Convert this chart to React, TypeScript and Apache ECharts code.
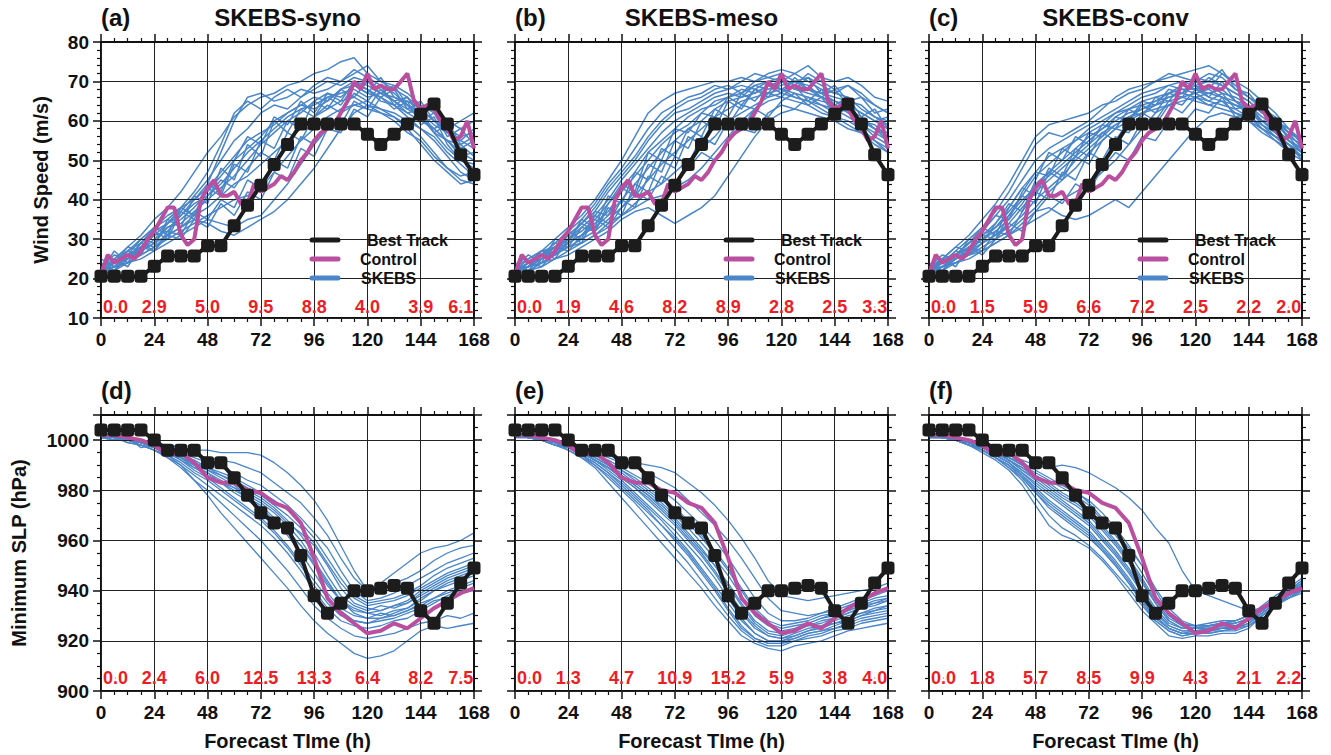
import React, { useEffect, useRef } from 'react';
import * as echarts from 'echarts';

const FONT = '"Liberation Sans", Arial, Helvetica, sans-serif';

const HOURS6 = [0, 6, 12, 18, 24, 30, 36, 42, 48, 54, 60, 66, 72, 78, 84, 90, 96, 102, 108, 114, 120, 126, 132, 138, 144, 150, 156, 162, 168];
const HOURS3 = [0, 3, 6, 9, 12, 15, 18, 21, 24, 27, 30, 33, 36, 39, 42, 45, 48, 51, 54, 57, 60, 63, 66, 69, 72, 75, 78, 81, 84, 87, 90, 93, 96, 99, 102, 105, 108, 111, 114, 117, 120, 123, 126, 129, 132, 135, 138, 141, 144, 147, 150, 153, 156, 159, 162, 165, 168];

const PANEL_LETTERS = ['(a)', '(b)', '(c)', '(d)', '(e)', '(f)'];
const PANEL_TITLES = ['SKEBS-syno', 'SKEBS-meso', 'SKEBS-conv', '', '', ''];

const BEST_WIND = [20.6, 20.6, 20.6, 20.6, 23.1, 25.7, 25.7, 25.7, 28.3, 28.3, 33.4, 38.6, 43.7, 48.9, 54.0, 59.2, 59.2, 59.2, 59.2, 59.2, 56.6, 54.0, 56.6, 59.2, 61.7, 64.3, 59.2, 51.4, 46.3];
const BEST_SLP = [1004, 1004, 1004, 1004, 1000, 996, 996, 996, 991, 991, 985, 978, 971, 967, 965, 954, 938, 931, 935, 940, 940, 941, 942, 941, 932, 927, 935, 943, 949];

const CONTROL_WIND = [21, 26, 24, 25, 26, 25, 27, 30, 32, 35, 38, 38, 31, 28.5, 30, 40, 43, 45, 41, 41, 42, 39, 39, 44, 42, 43, 44, 46, 45, 47, 50, 52, 55, 57, 58, 59, 62, 65, 70, 68, 72, 68, 69, 68, 68, 70, 72, 65, 63, 64, 63, 60, 58, 55, 56, 60, 53];
const CONTROL_SLP = [1002, 1002, 1001, 1000, 998, 994, 995, 991, 985, 983, 983, 980, 979, 975, 973, 967, 953, 937, 931, 927, 923, 924, 927, 925, 929, 933, 936, 939, 941];

const WIND_SYNO = [
  [22, 24, 26, 28, 31, 34, 36, 40, 44, 52, 60, 66, 67, 65, 66, 68, 67, 68, 70, 72, 74, 70, 68, 66, 63, 60, 58, 60, 62],
  [23, 25, 27, 30, 33, 35, 38, 42, 47, 54, 62, 65, 63, 66, 68, 66, 69, 71, 70, 73, 71, 69, 67, 64, 62, 59, 57, 55, 58],
  [21, 24, 25, 29, 32, 34, 37, 41, 45, 50, 55, 58, 62, 64, 63, 66, 68, 70, 69, 71, 70, 68, 65, 66, 61, 58, 55, 54, 56],
  [22, 23, 26, 27, 30, 33, 35, 38, 42, 46, 50, 53, 56, 60, 62, 64, 66, 65, 68, 69, 67, 66, 64, 62, 60, 58, 55, 52, 50],
  [23, 26, 25, 28, 31, 32, 36, 39, 41, 44, 48, 52, 55, 58, 61, 63, 64, 66, 67, 68, 66, 67, 65, 63, 61, 57, 53, 50, 48],
  [21, 22, 25, 27, 29, 33, 34, 37, 40, 43, 46, 50, 54, 57, 60, 62, 65, 67, 66, 69, 68, 65, 64, 61, 58, 56, 52, 49, 46],
  [22, 24, 27, 29, 33, 36, 38, 40, 43, 47, 51, 55, 57, 59, 62, 64, 63, 65, 68, 70, 69, 67, 66, 65, 63, 60, 57, 55, 53],
  [21, 23, 24, 26, 28, 31, 33, 36, 38, 41, 44, 46, 49, 52, 55, 58, 61, 63, 65, 66, 64, 63, 62, 60, 58, 55, 51, 47, 45],
  [22, 23, 24, 26, 28, 30, 32, 34, 36, 38, 40, 41, 43, 47, 51, 55, 58, 61, 63, 64, 65, 63, 61, 59, 56, 52, 48, 45, 44],
  [21, 22, 24, 25, 27, 29, 31, 33, 35, 34, 33, 35, 36, 40, 44, 49, 54, 58, 62, 64, 63, 62, 60, 57, 55, 51, 48, 46, 47],
  [22, 24, 26, 27, 29, 31, 33, 35, 34, 32, 31, 33, 35, 37, 40, 44, 48, 53, 58, 62, 64, 62, 61, 58, 54, 50, 47, 44, 45],
  [23, 25, 28, 31, 35, 38, 42, 47, 52, 56, 61, 64, 66, 67, 69, 70, 72, 73, 75, 76, 72, 70, 69, 67, 64, 62, 60, 58, 60],
  [24, 22, 27, 26, 32, 30, 37, 35, 43, 41, 49, 47, 55, 53, 60, 58, 65, 63, 68, 66, 70, 67, 69, 64, 62, 57, 55, 51, 52],
  [22, 27, 24, 29, 28, 35, 33, 41, 39, 48, 45, 54, 51, 60, 57, 63, 61, 66, 64, 69, 67, 71, 66, 64, 60, 62, 56, 58, 54],
  [21, 25, 23, 28, 27, 31, 30, 35, 33, 39, 36, 42, 40, 47, 45, 53, 51, 58, 57, 63, 61, 66, 63, 65, 59, 61, 54, 50, 49],
  [23, 24, 28, 27, 33, 31, 38, 36, 44, 42, 50, 56, 54, 61, 59, 65, 62, 67, 65, 70, 68, 66, 68, 63, 65, 60, 58, 56, 57],
  [22, 23, 25, 29, 27, 32, 31, 37, 35, 40, 38, 45, 43, 50, 48, 56, 54, 60, 59, 65, 63, 68, 65, 62, 63, 57, 59, 53, 55],
  [25, 23, 26, 30, 29, 34, 38, 36, 41, 45, 43, 48, 52, 50, 57, 55, 61, 64, 62, 67, 65, 69, 64, 66, 61, 58, 60, 54, 51],
];
const WIND_MESO = [
  [22, 24, 27, 30, 33, 36, 40, 45, 50, 56, 62, 65, 67, 68, 69, 70, 70, 71, 70, 72, 73, 72, 74, 71, 70, 71, 69, 66, 65],
  [21, 24, 26, 29, 32, 35, 39, 44, 48, 53, 58, 62, 64, 66, 67, 69, 68, 70, 72, 71, 70, 72, 70, 68, 67, 69, 66, 64, 62],
  [23, 25, 27, 28, 31, 34, 37, 42, 46, 50, 55, 59, 62, 63, 65, 67, 68, 69, 68, 70, 71, 69, 68, 67, 66, 65, 64, 61, 60],
  [22, 23, 25, 28, 30, 33, 36, 40, 45, 49, 53, 57, 60, 62, 64, 66, 67, 66, 69, 70, 68, 70, 69, 66, 65, 64, 62, 60, 58],
  [21, 23, 26, 27, 30, 32, 35, 39, 43, 47, 52, 55, 58, 61, 63, 64, 66, 68, 67, 69, 70, 68, 67, 66, 64, 63, 61, 58, 57],
  [22, 24, 25, 27, 29, 31, 34, 37, 42, 46, 50, 54, 57, 59, 62, 65, 66, 67, 69, 68, 69, 70, 68, 67, 65, 63, 60, 59, 56],
  [21, 22, 24, 26, 29, 31, 33, 36, 40, 44, 48, 52, 55, 58, 60, 63, 65, 66, 67, 69, 68, 67, 66, 65, 64, 62, 60, 58, 55],
  [22, 23, 25, 27, 28, 30, 32, 35, 38, 41, 45, 49, 52, 55, 58, 61, 63, 65, 66, 67, 68, 66, 65, 64, 63, 61, 59, 56, 54],
  [21, 22, 24, 25, 27, 29, 31, 34, 36, 39, 42, 44, 47, 50, 53, 56, 60, 62, 64, 66, 67, 66, 65, 63, 61, 60, 58, 55, 53],
  [22, 23, 24, 26, 28, 29, 31, 33, 36, 38, 40, 41, 43, 45, 48, 52, 56, 60, 63, 65, 66, 65, 64, 62, 61, 59, 57, 54, 52],
  [21, 22, 23, 25, 26, 28, 30, 32, 35, 37, 38, 36, 34, 36, 38, 41, 46, 51, 56, 60, 62, 63, 62, 61, 60, 58, 57, 55, 52],
  [22, 24, 26, 28, 31, 34, 38, 43, 47, 51, 56, 60, 63, 65, 66, 68, 69, 67, 70, 71, 72, 70, 71, 69, 67, 66, 63, 61, 59],
  [23, 26, 24, 30, 29, 35, 33, 41, 39, 47, 45, 53, 51, 58, 56, 63, 61, 67, 65, 69, 67, 71, 68, 66, 68, 64, 62, 60, 61],
  [22, 25, 27, 26, 32, 30, 37, 36, 43, 41, 49, 47, 55, 53, 60, 58, 65, 63, 68, 66, 70, 68, 71, 67, 69, 65, 66, 62, 63],
  [24, 22, 26, 29, 28, 33, 32, 38, 36, 44, 42, 50, 48, 56, 54, 61, 59, 64, 63, 67, 66, 69, 65, 68, 64, 66, 61, 63, 58],
  [21, 24, 23, 27, 31, 29, 36, 34, 40, 38, 46, 44, 51, 49, 56, 54, 60, 58, 63, 61, 65, 67, 64, 66, 62, 63, 59, 57, 55],
  [22, 23, 27, 25, 30, 34, 32, 39, 44, 42, 52, 50, 58, 57, 62, 61, 66, 64, 68, 67, 71, 69, 72, 70, 68, 69, 67, 64, 62],
  [23, 21, 25, 28, 27, 31, 35, 33, 38, 42, 40, 46, 44, 48, 52, 50, 55, 58, 57, 62, 64, 63, 66, 64, 62, 63, 60, 58, 56],
];
const WIND_CONV = [
  [22, 25, 28, 31, 35, 39, 44, 50, 56, 59, 60, 61, 62, 64, 65, 67, 68, 70, 71, 72, 73, 74, 72, 70, 68, 65, 62, 58, 54],
  [23, 24, 27, 30, 33, 37, 42, 48, 54, 57, 56, 58, 60, 63, 66, 68, 69, 70, 72, 71, 70, 72, 71, 68, 66, 63, 60, 57, 53],
  [21, 24, 26, 29, 32, 36, 40, 45, 50, 53, 55, 57, 59, 61, 63, 65, 67, 68, 69, 70, 69, 70, 69, 67, 65, 62, 60, 57, 55],
  [22, 23, 26, 28, 31, 34, 38, 43, 47, 51, 53, 55, 58, 60, 62, 64, 66, 67, 69, 68, 68, 69, 67, 66, 64, 61, 59, 56, 52],
  [22, 25, 26, 29, 31, 33, 37, 41, 46, 49, 52, 55, 57, 59, 62, 63, 65, 66, 67, 69, 68, 67, 68, 65, 63, 60, 58, 55, 53],
  [21, 23, 25, 27, 30, 32, 35, 39, 44, 47, 50, 53, 56, 58, 61, 63, 64, 65, 67, 68, 67, 68, 66, 64, 62, 60, 57, 54, 51],
  [22, 24, 26, 28, 30, 33, 36, 40, 43, 46, 49, 52, 55, 58, 60, 62, 63, 65, 66, 67, 69, 66, 65, 64, 63, 59, 56, 54, 50],
  [21, 22, 25, 27, 29, 31, 34, 38, 42, 45, 48, 51, 54, 57, 59, 61, 63, 64, 66, 67, 66, 67, 66, 65, 62, 60, 58, 55, 52],
  [22, 23, 24, 26, 29, 31, 33, 36, 40, 43, 46, 50, 53, 56, 59, 61, 62, 64, 65, 66, 67, 65, 64, 63, 61, 59, 56, 53, 51],
  [21, 23, 25, 26, 28, 30, 32, 35, 38, 42, 45, 48, 52, 55, 58, 60, 62, 63, 64, 66, 65, 64, 65, 62, 60, 57, 55, 52, 50],
  [22, 23, 24, 26, 27, 29, 31, 34, 37, 38, 36, 35, 36, 38, 40, 38, 42, 46, 50, 54, 58, 61, 62, 61, 60, 58, 55, 53, 51],
  [21, 22, 24, 25, 27, 29, 31, 33, 35, 37, 40, 42, 44, 47, 50, 54, 58, 62, 64, 65, 66, 64, 63, 62, 61, 58, 56, 54, 52],
  [23, 26, 25, 30, 29, 34, 39, 37, 45, 52, 50, 56, 54, 59, 58, 63, 61, 66, 65, 69, 68, 71, 69, 67, 65, 62, 60, 56, 54],
  [22, 24, 27, 26, 31, 30, 36, 41, 39, 47, 45, 51, 49, 55, 58, 57, 62, 60, 65, 64, 68, 66, 70, 65, 64, 60, 61, 55, 53],
  [21, 25, 23, 28, 27, 32, 31, 37, 42, 40, 47, 45, 52, 50, 56, 54, 60, 59, 64, 62, 66, 65, 67, 63, 64, 59, 57, 54, 52],
  [24, 22, 26, 29, 33, 31, 38, 43, 41, 48, 46, 53, 51, 57, 55, 60, 64, 62, 67, 66, 70, 68, 72, 69, 66, 64, 60, 58, 55],
  [22, 23, 25, 28, 26, 30, 34, 32, 37, 41, 39, 44, 42, 48, 52, 50, 56, 55, 60, 59, 63, 62, 66, 61, 62, 58, 56, 53, 51],
  [23, 25, 28, 27, 32, 36, 35, 42, 47, 46, 53, 51, 57, 56, 61, 60, 65, 64, 68, 67, 71, 70, 73, 68, 67, 63, 61, 57, 55],
];
const SLP_SYNO = [
  [1002, 1001, 1001, 999, 997, 994, 990, 984, 978, 971, 965, 959, 953, 947, 941, 934, 928, 923, 919, 915, 913, 914, 916, 920, 924, 926, 925, 926, 927],
  [1001, 1002, 1000, 998, 996, 993, 989, 984, 980, 975, 970, 965, 960, 954, 948, 941, 934, 929, 925, 922, 921, 922, 923, 925, 927, 928, 930, 929, 931],
  [1002, 1001, 1000, 999, 997, 995, 992, 988, 985, 981, 977, 973, 969, 964, 958, 951, 944, 937, 932, 928, 927, 928, 929, 931, 933, 936, 937, 939, 940],
  [1001, 1000, 1001, 999, 998, 995, 993, 990, 986, 983, 980, 977, 973, 968, 962, 955, 947, 939, 933, 930, 929, 931, 930, 932, 935, 937, 940, 942, 944],
  [1002, 1001, 1000, 999, 998, 996, 994, 991, 988, 985, 982, 978, 975, 971, 966, 960, 952, 944, 936, 932, 931, 930, 932, 933, 936, 940, 943, 945, 947],
  [1002, 1001, 1001, 1000, 998, 996, 994, 991, 988, 986, 983, 980, 977, 973, 968, 962, 955, 946, 938, 934, 932, 934, 933, 935, 938, 941, 944, 946, 948],
  [1001, 1000, 1000, 999, 997, 995, 993, 990, 987, 984, 981, 979, 976, 972, 967, 963, 958, 950, 941, 935, 933, 932, 934, 936, 940, 943, 946, 948, 950],
  [1002, 1001, 1000, 999, 998, 996, 994, 992, 989, 987, 985, 982, 979, 976, 972, 967, 961, 953, 945, 938, 935, 936, 937, 939, 942, 946, 949, 951, 953],
  [1002, 1001, 1001, 999, 998, 997, 995, 993, 991, 989, 987, 984, 982, 978, 974, 969, 963, 957, 948, 940, 936, 937, 939, 942, 945, 948, 951, 953, 955],
  [1002, 1002, 1000, 999, 998, 997, 996, 994, 993, 992, 991, 989, 987, 983, 979, 975, 969, 962, 953, 945, 940, 941, 943, 945, 948, 952, 955, 957, 958],
  [1002, 1001, 1001, 1000, 999, 998, 997, 996, 996, 995, 995, 995, 994, 991, 987, 982, 976, 968, 958, 948, 940, 943, 947, 951, 955, 957, 958, 960, 963],
  [1001, 1001, 1000, 998, 997, 995, 992, 989, 986, 983, 979, 976, 972, 968, 963, 958, 951, 943, 936, 931, 929, 929, 931, 933, 937, 940, 942, 944, 946],
  [1002, 1000, 1001, 997, 998, 994, 993, 989, 987, 983, 981, 977, 974, 969, 964, 958, 950, 942, 936, 933, 931, 932, 934, 935, 939, 942, 945, 947, 949],
  [1001, 1002, 999, 998, 996, 994, 991, 987, 984, 980, 976, 972, 968, 963, 957, 950, 942, 935, 930, 928, 927, 929, 930, 932, 934, 937, 939, 941, 943],
  [1002, 1001, 1000, 999, 997, 996, 993, 991, 989, 986, 984, 981, 978, 974, 970, 965, 959, 951, 943, 937, 934, 935, 936, 938, 941, 944, 947, 949, 951],
  [1002, 1001, 999, 998, 996, 993, 990, 986, 982, 978, 974, 970, 966, 961, 955, 948, 940, 933, 928, 926, 925, 926, 928, 929, 932, 935, 938, 940, 941],
];
const SLP_MESO = [
  [1002, 1001, 1000, 999, 996, 993, 989, 983, 977, 971, 965, 959, 953, 947, 941, 934, 928, 922, 919, 917, 916, 918, 919, 920, 922, 924, 925, 926, 927],
  [1002, 1001, 1001, 999, 997, 994, 990, 985, 980, 975, 969, 963, 957, 951, 944, 937, 930, 924, 920, 918, 918, 920, 921, 922, 924, 925, 927, 928, 929],
  [1001, 1002, 1000, 998, 997, 994, 991, 987, 982, 977, 972, 966, 961, 955, 948, 941, 933, 926, 921, 919, 919, 921, 923, 924, 925, 927, 929, 930, 931],
  [1002, 1001, 1000, 999, 997, 995, 992, 988, 984, 979, 974, 969, 964, 958, 952, 945, 937, 929, 923, 920, 920, 922, 924, 925, 927, 928, 930, 932, 933],
  [1002, 1001, 1001, 999, 998, 995, 992, 989, 985, 981, 976, 971, 966, 960, 954, 947, 939, 931, 925, 922, 921, 923, 925, 926, 928, 930, 931, 933, 934],
  [1001, 1001, 1000, 998, 997, 995, 993, 990, 986, 982, 978, 973, 968, 962, 956, 950, 942, 934, 927, 923, 922, 924, 926, 928, 929, 931, 933, 934, 936],
  [1002, 1001, 1000, 999, 997, 996, 993, 990, 987, 983, 979, 975, 970, 965, 959, 953, 946, 938, 930, 926, 924, 925, 927, 929, 931, 932, 934, 936, 937],
  [1002, 1001, 1001, 999, 998, 996, 994, 991, 988, 985, 981, 977, 973, 968, 962, 956, 949, 941, 933, 928, 926, 927, 928, 930, 931, 933, 935, 937, 938],
  [1002, 1001, 1000, 999, 998, 996, 994, 992, 989, 986, 983, 980, 976, 971, 966, 960, 953, 945, 937, 931, 928, 928, 929, 931, 932, 934, 936, 938, 940],
  [1002, 1001, 1001, 999, 998, 997, 995, 993, 991, 989, 987, 984, 981, 976, 971, 966, 960, 953, 945, 937, 932, 931, 930, 931, 933, 935, 937, 939, 941],
  [1002, 1002, 1000, 999, 998, 997, 996, 994, 992, 991, 990, 989, 987, 983, 979, 974, 968, 961, 953, 944, 938, 937, 936, 937, 938, 939, 940, 941, 943],
  [1001, 1001, 1000, 998, 997, 995, 992, 989, 986, 982, 978, 974, 969, 963, 957, 950, 943, 935, 928, 924, 923, 924, 926, 927, 929, 931, 933, 935, 936],
  [1002, 1001, 1000, 998, 996, 993, 990, 986, 981, 976, 971, 966, 960, 954, 947, 940, 932, 925, 921, 919, 919, 920, 922, 923, 925, 926, 928, 929, 930],
  [1001, 1002, 1000, 999, 997, 995, 992, 989, 985, 981, 977, 972, 967, 961, 955, 948, 940, 932, 926, 922, 921, 922, 924, 926, 927, 929, 931, 932, 934],
  [1002, 1001, 1001, 999, 998, 996, 994, 991, 988, 984, 980, 976, 972, 967, 961, 955, 948, 940, 932, 927, 925, 926, 927, 929, 930, 932, 934, 935, 937],
  [1002, 1001, 1000, 999, 997, 994, 991, 987, 983, 978, 973, 968, 962, 956, 949, 942, 935, 928, 923, 920, 920, 921, 923, 924, 926, 928, 930, 931, 932],
];
const SLP_CONV = [
  [1002, 1001, 1001, 999, 998, 996, 994, 992, 990, 989, 990, 989, 987, 984, 981, 977, 972, 965, 959, 948, 940, 938, 936, 934, 932, 933, 935, 937, 940],
  [1002, 1001, 1000, 999, 997, 995, 992, 988, 985, 983, 982, 980, 975, 969, 963, 957, 950, 941, 933, 928, 926, 926, 927, 928, 930, 933, 935, 938, 941],
  [1002, 1001, 1000, 998, 995, 992, 988, 982, 974, 966, 962, 960, 957, 952, 946, 939, 932, 927, 922, 921, 922, 922, 923, 923, 925, 930, 934, 937, 939],
  [1001, 1001, 1000, 998, 996, 993, 989, 984, 977, 970, 965, 962, 958, 953, 947, 941, 934, 928, 924, 922, 923, 923, 924, 924, 926, 930, 934, 937, 940],
  [1002, 1001, 1000, 999, 996, 993, 990, 985, 979, 973, 969, 965, 961, 956, 950, 943, 936, 929, 925, 923, 923, 924, 924, 925, 927, 931, 935, 938, 941],
  [1002, 1001, 1001, 999, 997, 994, 991, 986, 981, 976, 972, 968, 964, 958, 952, 945, 937, 930, 925, 923, 924, 924, 925, 925, 927, 931, 935, 938, 942],
  [1001, 1001, 1000, 998, 997, 994, 991, 987, 982, 978, 974, 970, 966, 960, 954, 947, 939, 931, 926, 924, 924, 925, 925, 926, 928, 931, 935, 939, 942],
  [1002, 1001, 1000, 999, 997, 995, 992, 988, 984, 980, 976, 972, 968, 962, 956, 949, 941, 933, 927, 925, 925, 925, 926, 926, 928, 932, 936, 939, 943],
  [1002, 1002, 1000, 999, 997, 995, 992, 989, 985, 981, 977, 974, 970, 964, 958, 951, 943, 935, 928, 925, 925, 926, 926, 927, 929, 932, 936, 940, 943],
  [1001, 1001, 1000, 998, 997, 995, 993, 990, 986, 983, 979, 976, 972, 966, 960, 953, 945, 936, 929, 926, 925, 926, 927, 927, 929, 933, 937, 940, 944],
  [1002, 1001, 1001, 999, 998, 995, 993, 990, 987, 984, 981, 978, 974, 968, 962, 955, 947, 938, 930, 926, 926, 926, 927, 928, 930, 933, 937, 940, 944],
  [1002, 1001, 1000, 999, 997, 995, 993, 991, 988, 985, 982, 979, 976, 971, 965, 958, 950, 940, 931, 927, 926, 927, 928, 928, 930, 934, 938, 941, 945],
  [1002, 1001, 1000, 998, 996, 993, 990, 986, 980, 975, 971, 967, 963, 957, 951, 944, 936, 929, 925, 923, 923, 924, 925, 925, 927, 931, 935, 938, 941],
  [1001, 1001, 1000, 999, 997, 994, 991, 987, 983, 979, 975, 971, 967, 961, 955, 948, 940, 932, 926, 924, 924, 925, 925, 926, 928, 932, 936, 939, 942],
  [1002, 1001, 1001, 999, 997, 995, 992, 989, 986, 982, 978, 975, 971, 965, 959, 952, 944, 935, 928, 925, 925, 925, 926, 927, 929, 932, 936, 939, 942],
  [1002, 1001, 1000, 998, 996, 993, 989, 985, 979, 974, 970, 966, 962, 956, 950, 943, 935, 928, 924, 922, 923, 923, 924, 925, 926, 930, 934, 938, 940],
];

const ERR_X = [6.5, 24, 48, 72, 96, 120, 144, 162];
const ERR_LABELS = [
  ['0.0', '2.9', '5.0', '9.5', '8.8', '4.0', '3.9', '6.1'],
  ['0.0', '1.9', '4.6', '8.2', '8.9', '2.8', '2.5', '3.3'],
  ['0.0', '1.5', '5.9', '6.6', '7.2', '2.5', '2.2', '2.0'],
  ['0.0', '2.4', '6.0', '12.5', '13.3', '6.4', '8.2', '7.5'],
  ['0.0', '1.3', '4.7', '10.9', '15.2', '5.9', '3.8', '4.0'],
  ['0.0', '1.8', '5.7', '8.5', '9.9', '4.3', '2.1', '2.2'],
];
const ERR_Y = [12.8, 905.2];

const MEMBERS = [WIND_SYNO, WIND_MESO, WIND_CONV, SLP_SYNO, SLP_MESO, SLP_CONV];

const GRID_LEFTS = [101, 515, 929];
const GRID_TOPS = [42, 415];
const GRID_W = 373;
const GRID_H = 276;

const BLUE = '#4a86c8';
const MAGENTA = '#bb4f9f';
const BLACK = '#1c1c1c';
const RED = '#ee1c24';

function buildOption() {
  const grid: any[] = [];
  const xAxis: any[] = [];
  const yAxis: any[] = [];
  const series: any[] = [];
  const graphic: any[] = [];

  for (let p = 0; p < 6; p++) {
    const r = p < 3 ? 0 : 1;
    const c = p % 3;
    const L = GRID_LEFTS[c];
    const T = GRID_TOPS[r];
    grid.push({ left: L, top: T, width: GRID_W, height: GRID_H, containLabel: false });

    const tickCommon = {
      axisLine: { show: true, onZero: false, lineStyle: { color: '#111', width: 2 } },
      axisTick: { show: true, inside: false, length: 8, lineStyle: { color: '#111', width: 1.5 } },
    };
    const labelStyle = { fontSize: 19, fontWeight: 'bold', color: '#111', fontFamily: FONT };

    xAxis.push({
      gridIndex: p, type: 'value', min: 0, max: 168, interval: 24, position: 'bottom',
      ...tickCommon,
      minorTick: { show: true, splitNumber: 4, length: 4, lineStyle: { color: '#111', width: 1.2 } },
      axisLabel: { ...labelStyle, margin: 12 },
      splitLine: { show: false },
      name: r === 1 ? 'Forecast TIme (h)' : '',
      nameLocation: 'middle', nameGap: 40,
      nameTextStyle: { fontSize: 20, fontWeight: 'bold', color: '#111', fontFamily: FONT },
    });
    xAxis.push({
      gridIndex: p, type: 'value', min: 0, max: 168, interval: 24, position: 'top', z: 3,
      ...tickCommon,
      minorTick: { show: true, splitNumber: 4, length: 4, lineStyle: { color: '#111', width: 1.2 } },
      axisLabel: { show: false },
      splitLine: { show: true, lineStyle: { color: '#222', width: 1 } },
    });

    const yMin = r ? 900 : 10;
    const yMax = r ? 1010 : 80;
    const yInt = r ? 20 : 10;
    const ySplit = r ? 4 : 5;
    yAxis.push({
      gridIndex: p, type: 'value', min: yMin, max: yMax, interval: yInt, position: 'left',
      ...tickCommon,
      minorTick: { show: true, splitNumber: ySplit, length: 4, lineStyle: { color: '#111', width: 1.2 } },
      axisLabel: { ...labelStyle, show: c === 0, margin: 12, formatter: (v: number) => (v === 1010 ? '' : String(v)) },
      splitLine: { show: false },
      name: c === 0 ? (r ? 'Minimum SLP (hPa)' : 'Wind Speed (m/s)') : '',
      nameLocation: 'middle', nameGap: r ? 72 : 50,
      nameTextStyle: { fontSize: 20, fontWeight: 'bold', color: '#111', fontFamily: FONT },
    });
    yAxis.push({
      gridIndex: p, type: 'value', min: yMin, max: yMax, interval: yInt, position: 'right', z: 3,
      ...tickCommon,
      minorTick: { show: true, splitNumber: ySplit, length: 4, lineStyle: { color: '#111', width: 1.2 } },
      axisLabel: { show: false },
      splitLine: { show: true, lineStyle: { color: '#222', width: 1 } },
    });

    const xi = 2 * p;
    const yi = 2 * p;

    MEMBERS[p].forEach((m) => {
      series.push({
        type: 'line', name: 'SKEBS', xAxisIndex: xi, yAxisIndex: yi, z: 2,
        data: m.map((v, i) => [HOURS6[i], v]),
        symbol: 'none', silent: true,
        lineStyle: { color: BLUE, width: r ? 1.3 : 1.5 },
      });
    });

    const ctrl = r ? CONTROL_SLP.map((v, i) => [HOURS6[i], v]) : CONTROL_WIND.map((v, i) => [HOURS3[i], v]);
    series.push({
      type: 'line', name: 'Control', xAxisIndex: xi, yAxisIndex: yi, z: 4,
      data: ctrl, symbol: 'none', silent: true,
      lineStyle: { color: MAGENTA, width: 4 },
    });

    const best = r ? BEST_SLP : BEST_WIND;
    series.push({
      type: 'line', name: 'Best Track', xAxisIndex: xi, yAxisIndex: yi, z: 5,
      data: best.map((v, i) => [HOURS6[i], v]),
      symbol: 'roundRect', symbolSize: 13, showAllSymbol: true, silent: true,
      lineStyle: { color: BLACK, width: 4 },
      itemStyle: { color: BLACK, borderWidth: 0 },
    });

    series.push({
      type: 'scatter', xAxisIndex: xi, yAxisIndex: yi, z: 6, silent: true,
      symbolSize: 1, itemStyle: { color: RED, opacity: 1 },
      data: ERR_X.map((x, i) => [x, ERR_Y[r], ERR_LABELS[p][i]]),
      label: {
        show: true, position: 'inside', formatter: (q: any) => q.value[2],
        color: RED, fontSize: 18, fontWeight: 'bold', fontFamily: FONT,
        textBorderWidth: 0, textBorderColor: 'transparent', opacity: 1,
      },
    });

    graphic.push({
      type: 'text', x: L, y: T - 25, z: 10,
      style: { text: PANEL_LETTERS[p], fontSize: 24, fontWeight: 'bold', fontFamily: FONT, fill: '#111', align: 'left', verticalAlign: 'middle' },
    });
    if (PANEL_TITLES[p]) {
      graphic.push({
        type: 'text', x: L + GRID_W / 2, y: T - 25, z: 10,
        style: { text: PANEL_TITLES[p], fontSize: 24, fontWeight: 'bold', fontFamily: FONT, fill: '#111', align: 'center', verticalAlign: 'middle' },
      });
      const items = [
        { label: 'Best Track', color: BLACK, dx: 266, y: 240 },
        { label: 'Control', color: MAGENTA, dx: 259, y: 259 },
        { label: 'SKEBS', color: BLUE, dx: 260, y: 278 },
      ];
      items.forEach((it) => {
        graphic.push({
          type: 'line', z: 10,
          shape: { x1: L + 211, y1: it.y, x2: L + 237, y2: it.y },
          style: { stroke: it.color, lineWidth: 5, lineCap: 'round' },
        });
        graphic.push({
          type: 'text', x: L + it.dx, y: it.y, z: 10,
          style: { text: it.label, fontSize: 16, fontWeight: 'bold', fontFamily: FONT, fill: '#111', align: 'left', verticalAlign: 'middle' },
        });
      });
    }
  }

  return {
    animation: false,
    backgroundColor: '#ffffff',
    textStyle: { fontFamily: FONT },
    grid, xAxis, yAxis, series, graphic,
  };
}

export default function App() {
  const ref = useRef<HTMLDivElement>(null);
  useEffect(() => {
    const chart = echarts.init(ref.current as HTMLDivElement, null, { renderer: 'svg' });
    chart.setOption(buildOption() as any);
    return () => chart.dispose();
  }, []);
  return (
    <div
      ref={ref}
      style={{ position: 'fixed', left: 0, top: 0, width: 1331, height: 755, background: '#fff' }}
    />
  );
}
